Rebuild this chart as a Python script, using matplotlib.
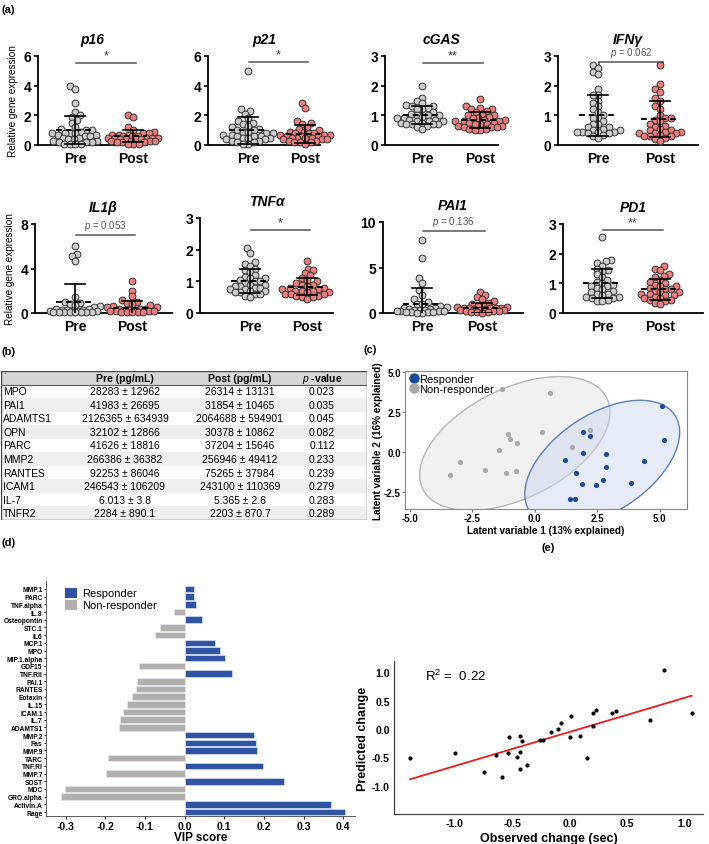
import numpy as np
import matplotlib
matplotlib.use("Agg")
import matplotlib.pyplot as plt
import matplotlib.transforms as transforms
from matplotlib.patches import Ellipse, Rectangle, Patch
from matplotlib.lines import Line2D

plt.rcParams['font.family'] = ['Liberation Sans', 'DejaVu Sans']
plt.rcParams['mathtext.fontset'] = 'custom'
plt.rcParams['mathtext.rm'] = 'Liberation Sans'
plt.rcParams['mathtext.it'] = 'Liberation Sans:italic'
plt.rcParams['mathtext.bf'] = 'Liberation Sans:bold'

# ---------------- data (a) : relative gene expression ----------------
genes = ['p16', 'p21', 'cGAS', 'IFNγ', 'IL1β', 'TNFα', 'PAI1', 'PD1']
pre_vals = [
    [4.0, 3.8, 2.8, 2.2, 2.0, 1.9, 1.7, 1.5, 1.2, 1.1, 1.0, 1.0, 0.9, 0.8, 0.8, 0.8, 0.8, 0.7, 0.7,
     0.6, 0.6, 0.5, 0.5, 0.4, 0.4, 0.3, 0.3, 0.2, 0.2, 0.2, 0.1, 0.1, 0.05, 0.05],
    [5.0, 2.4, 2.3, 2.1, 1.8, 1.6, 1.5, 1.4, 1.3, 1.2, 1.1, 1.0, 1.0, 0.9, 0.9, 0.8, 0.8, 0.7, 0.7,
     0.6, 0.6, 0.6, 0.5, 0.5, 0.5, 0.4, 0.4, 0.3, 0.3, 0.2, 0.2, 0.1, 0.1],
    [2.0, 1.6, 1.5, 1.4, 1.35, 1.3, 1.3, 1.25, 1.2, 1.2, 1.1, 1.05, 1.0, 1.0, 1.0, 0.95, 0.9, 0.9,
     0.85, 0.85, 0.8, 0.8, 0.8, 0.75, 0.75, 0.7, 0.7, 0.7, 0.7, 0.65, 0.6, 0.55],
    [2.7, 2.6, 2.45, 2.4, 1.9, 1.7, 1.7, 1.5, 1.4, 1.3, 1.2, 1.1, 1.0, 0.9, 0.9, 0.8, 0.7, 0.7, 0.6,
     0.6, 0.55, 0.5, 0.5, 0.45, 0.45, 0.45, 0.45, 0.4, 0.4, 0.35, 0.3, 0.25],
    [6.0, 5.3, 5.1, 4.7, 1.4, 1.0, 0.9, 0.8, 0.7, 0.6, 0.5, 0.4, 0.4, 0.3, 0.3, 0.3, 0.2, 0.2, 0.2,
     0.2, 0.1, 0.1, 0.1, 0.1, 0.1, 0.05, 0.05, 0.05],
    [2.05, 1.9, 1.6, 1.55, 1.5, 1.4, 1.35, 1.3, 1.2, 1.15, 1.1, 1.1, 1.05, 1.0, 1.0, 0.95, 0.9, 0.9,
     0.85, 0.85, 0.8, 0.8, 0.75, 0.75, 0.7, 0.7, 0.65, 0.65, 0.6, 0.6, 0.55, 0.5],
    [8.0, 6.0, 3.8, 3.3, 2.5, 2.0, 1.5, 1.2, 1.0, 1.0, 0.8, 0.7, 0.6, 0.5, 0.4, 0.4, 0.3, 0.3, 0.3,
     0.2, 0.2, 0.2, 0.2, 0.1, 0.1, 0.1, 0.1, 0.05, 0.05],
    [2.55, 1.8, 1.75, 1.7, 1.6, 1.5, 1.45, 1.4, 1.3, 1.2, 1.1, 1.05, 1.0, 0.95, 0.9, 0.9, 0.85, 0.8,
     0.75, 0.7, 0.65, 0.65, 0.6, 0.55, 0.55, 0.5, 0.5, 0.45, 0.4, 0.4],
]
post_vals = [
    [2.0, 1.9, 1.2, 1.0, 0.9, 0.8, 0.8, 0.7, 0.7, 0.7, 0.6, 0.6, 0.6, 0.5, 0.5, 0.5, 0.5, 0.5, 0.4,
     0.4, 0.4, 0.4, 0.3, 0.3, 0.3, 0.3, 0.2, 0.2, 0.2, 0.1, 0.1, 0.1],
    [2.8, 2.5, 1.6, 1.5, 1.4, 1.2, 1.1, 1.0, 0.9, 0.9, 0.8, 0.8, 0.8, 0.7, 0.7, 0.7, 0.6, 0.6, 0.6,
     0.5, 0.5, 0.5, 0.5, 0.4, 0.4, 0.4, 0.3, 0.3, 0.2, 0.2, 0.2, 0.1],
    [1.55, 1.3, 1.25, 1.2, 1.2, 1.15, 1.1, 1.05, 1.0, 1.0, 0.95, 0.9, 0.9, 0.85, 0.85, 0.8, 0.8, 0.8,
     0.75, 0.75, 0.7, 0.7, 0.7, 0.65, 0.65, 0.6, 0.6, 0.6, 0.55, 0.55, 0.5, 0.5],
    [2.7, 2.05, 1.9, 1.8, 1.6, 1.5, 1.3, 1.2, 1.0, 0.9, 0.9, 0.85, 0.8, 0.7, 0.65, 0.6, 0.55, 0.5,
     0.5, 0.45, 0.45, 0.4, 0.4, 0.4, 0.35, 0.3, 0.3, 0.3, 0.25, 0.2, 0.15],
    [2.9, 2.0, 1.5, 1.2, 1.0, 0.9, 0.8, 0.7, 0.6, 0.5, 0.5, 0.4, 0.4, 0.4, 0.3, 0.3, 0.3, 0.2, 0.2,
     0.2, 0.2, 0.1, 0.1, 0.1, 0.1, 0.05],
    [1.65, 1.4, 1.35, 1.25, 1.2, 1.1, 1.05, 1.0, 0.95, 0.9, 0.9, 0.85, 0.8, 0.8, 0.75, 0.75, 0.7, 0.7,
     0.7, 0.65, 0.65, 0.6, 0.6, 0.6, 0.55, 0.55, 0.5, 0.5, 0.45],
    [2.3, 2.0, 1.8, 1.5, 1.3, 1.1, 1.0, 0.9, 0.8, 0.7, 0.7, 0.6, 0.6, 0.5, 0.5, 0.5, 0.4, 0.4, 0.3,
     0.3, 0.3, 0.2, 0.2, 0.2, 0.1, 0.1, 0.1, 0.05],
    [1.6, 1.5, 1.45, 1.3, 1.25, 1.2, 1.1, 1.05, 1.0, 0.95, 0.9, 0.9, 0.85, 0.8, 0.8, 0.75, 0.7, 0.7,
     0.65, 0.65, 0.6, 0.6, 0.55, 0.5, 0.5, 0.45, 0.45, 0.4, 0.35, 0.3],
]
pre_mean = [1.0, 1.0, 1.0, 1.0, 1.0, 1.0, 1.0, 1.0]
pre_sd = [0.95, 0.9, 0.3, 0.68, 1.65, 0.38, 1.8, 0.48]
post_mean = [0.6, 0.75, 0.85, 0.88, 0.45, 0.83, 0.6, 0.8]
post_sd = [0.4, 0.63, 0.27, 0.6, 0.6, 0.27, 0.55, 0.35]
y_max = [6, 6, 3, 3, 8, 3, 10, 3]
y_ticks = [[0, 2, 4, 6], [0, 2, 4, 6], [0, 1, 2, 3], [0, 1, 2, 3],
           [0, 4, 8], [0, 1, 2, 3], [0, 5, 10], [0, 1, 2, 3]]
sig_text = ['*', '*', '**', '$\\it{p}$ = 0.062', '$\\it{p}$ = 0.053', '*', '$\\it{p}$ = 0.136', '**']
sig_y = [5.5, 5.6, 2.76, 2.8, 7.05, 2.62, 9.0, 2.8]

# ---------------- data (b) : table ----------------
tab_names = ['MPO', 'PAI1', 'ADAMTS1', 'OPN', 'PARC', 'MMP2', 'RANTES', 'ICAM1', 'IL-7', 'TNFR2']
tab_pre = ['28283 ± 12962', '41983 ± 26695', '2126365 ± 634939', '32102 ± 12866', '41626 ± 18816',
           '266386 ± 36382', '92253 ± 86046', '246543 ± 106209', '6.013 ± 3.8', '2284 ± 890.1']
tab_post = ['26314 ± 13131', '31854 ± 10465', '2064688 ± 594901', '30378 ± 10862', '37204 ± 15646',
            '256946 ± 49412', '75265 ± 37984', '243100 ± 110369', '5.365 ± 2.6', '2203 ± 870.7']
tab_p = ['0.023', '0.035', '0.045', '0.082', '0.112', '0.233', '0.239', '0.279', '0.283', '0.289']

# ---------------- data (c) : latent variables ----------------
resp_x = [5.09, 5.16, 1.93, 2.2, 1.93, 2.84, 1.23, 4.37, 2.87, 1.65, 1.89, 2.47, 2.73, 3.84, 1.41, 1.63]
resp_y = [2.88, 0.73, 1.23, 1.02, -0.06, -0.13, -0.48, -0.56, -0.94, -1.31, -1.98, -2.06, -1.77, -1.9,
          -2.9, -2.9]
non_x = [-1.3, 0.63, 0.29, -1.07, -0.99, -0.72, -1.44, -3.0, -3.4, -2.0, -1.15, -0.77, 1.51, 2.21]
non_y = [3.9, 3.7, 1.27, 1.12, 0.79, 0.56, 0.1, -0.65, -1.46, -1.13, -1.33, -1.17, 0.33, 1.39]

# ---------------- data (d) : VIP scores ----------------
vip_names = ['MMP.1', 'PARC', 'TNF.alpha', 'IL.8', 'Osteopontin', 'STC.1', 'IL6', 'MCP.1', 'MPO',
             'MIP.1.alpha', 'GDF15', 'TNF.RII', 'PAI.1', 'RANTES', 'Eotaxin', 'IL.15', 'ICAM.1',
             'IL.7', 'ADAMTS1', 'MMP.2', 'Fas', 'MMP.9', 'TARC', 'TNF.RI', 'MMP.7', 'SOST', 'MDC',
             'GRO.alpha', 'Activin.A', 'Rage']
vip_vals = [0.024, 0.024, 0.028, -0.028, 0.044, -0.063, -0.076, 0.077, 0.088, 0.102, -0.114, 0.119,
            -0.12, -0.124, -0.133, -0.146, -0.156, -0.162, -0.165, 0.174, 0.18, 0.183, -0.194, 0.199,
            -0.198, 0.251, -0.302, -0.311, 0.37, 0.405]

# ---------------- data (e) : observed vs predicted ----------------
obs_change = [-1.39, -1.0, -0.75, -0.64, -0.59, -0.54, -0.53, -0.46, -0.43, -0.43, -0.43, -0.42, -0.37,
              -0.26, -0.23, -0.16, -0.10, -0.08, 0.0, 0.01, 0.09, 0.15, 0.2, 0.2, 0.23, 0.37, 0.4,
              0.70, 0.82, 1.06]
pred_change = [-0.52, -0.42, -0.76, -0.45, -0.84, -0.42, -0.14, -0.5, -0.13, -0.41, -0.71, -0.21, -0.63,
               -0.2, -0.2, -0.05, 0.0, 0.11, -0.14, 0.23, -0.13, -0.52, 0.06, 0.28, 0.34, 0.28, 0.32,
               0.16, 1.04, 0.28]

W, H = 709, 845
fig = plt.figure(figsize=(W / 100, H / 100), dpi=100)


def rect(x0, y0, x1, y1):
    return [x0 / W, 1 - y1 / H, (x1 - x0) / W, (y1 - y0) / H]


def swarm_x(vals, ppx, ppy, diam, cap):
    # simple beeswarm in pixel space, limited to +-cap pixels
    vals = np.asarray(vals, float)
    order = np.argsort(vals)
    cands = sorted(np.arange(-cap, cap + 0.01, 0.5), key=lambda s: (abs(s), s))
    placed = []
    xs = np.zeros(len(vals))
    for i in order:
        yp = vals[i] * ppy
        best, bestd = 0.0, -1.0
        for s in cands:
            d = min([(s - px) ** 2 + (yp - py) ** 2 for px, py in placed], default=1e9)
            if d >= diam ** 2:
                best = s
                break
            if d > bestd:
                bestd, best = d, s
        placed.append((best, yp))
        xs[i] = best / ppx
    return xs


# ---------------- panel (a) ----------------
a_boxes = [(38, 57, 147, 146), (208, 57, 320, 146), (385, 57, 498, 146), (558, 57, 698, 146),
           (35, 225, 172, 314), (200, 219, 333, 314), (383, 223, 523, 314), (563, 225, 703, 314)]
pre_px = [75, 248, 422, 598, 75, 250, 422, 602]
post_px = [133, 305, 480, 660, 132, 307, 482, 660]

for g in range(8):
    x0, y0, x1, y1 = a_boxes[g]
    ax = fig.add_axes(rect(x0, y0, x1, y1))
    ppx = post_px[g] - pre_px[g]
    ppy = (y1 - y0) / y_max[g]
    ax.set_xlim((x0 - pre_px[g]) / ppx, (x1 - pre_px[g]) / ppx)
    ax.set_ylim(0, y_max[g])

    for xc, vals, fc in [(0, pre_vals[g], '#cdcdcd'), (1, post_vals[g], '#ef7d7d')]:
        xo = swarm_x(vals, ppx, ppy, 5.4, 25)
        ax.scatter(xc + xo, vals, s=24, facecolor=fc, edgecolor='#333333', linewidth=0.7,
                   zorder=3, clip_on=False)
    for xc, m, sd in [(0, pre_mean[g], pre_sd[g]), (1, post_mean[g], post_sd[g])]:
        hw = 19 / ppx
        cw = 10 / ppx
        ax.plot([xc - hw, xc + hw], [m, m], color='black', lw=1.4, ls=(0, (3, 2)), zorder=4)
        lo = max(m - sd, 0)
        ax.plot([xc, xc], [lo, m + sd], color='black', lw=1.2, zorder=4)
        ax.plot([xc - cw, xc + cw], [m + sd, m + sd], color='black', lw=1.2, zorder=4)
        if m - sd > 0:
            ax.plot([xc - cw, xc + cw], [m - sd, m - sd], color='black', lw=1.2, zorder=4)

    sy = sig_y[g]
    ax.plot([0.02, 1.05], [sy, sy], color='#555555', lw=1.1, clip_on=False)
    if g == 3:
        d = 0.03 * y_max[g]
        ax.plot([0.02, 0.02], [sy, sy - d], color='#555555', lw=1.1, clip_on=False)
        ax.plot([1.05, 1.05], [sy, sy - d], color='#555555', lw=1.1, clip_on=False)
    if sig_text[g].startswith('*'):
        ax.text(0.53, sy + 0.02 * y_max[g], sig_text[g], ha='center', va='bottom', fontsize=9,
                color='#333333')
    else:
        ax.text(0.53, sy + 0.03 * y_max[g], sig_text[g], ha='center', va='bottom', fontsize=7,
                color='#555555')

    ax.set_title(genes[g], fontsize=10, fontweight='bold', fontstyle='italic', pad=9)
    ax.set_yticks(y_ticks[g])
    ax.set_yticklabels([str(t) for t in y_ticks[g]], fontsize=10, fontweight='bold')
    ax.set_xticks([0, 1])
    ax.set_xticklabels(['Pre', 'Post'], fontsize=10, fontweight='bold')
    ax.tick_params(axis='x', length=0, pad=4)
    ax.tick_params(axis='y', length=3, width=1.2, pad=2)
    for s in ['top', 'right']:
        ax.spines[s].set_visible(False)
    for s in ['left', 'bottom']:
        ax.spines[s].set_linewidth(1.3)
    if g in (0, 4):
        ax.set_ylabel('Relative gene expression', fontsize=7.2, labelpad=4)

# ---------------- panel (b) ----------------
axb = fig.add_axes(rect(1, 372, 367, 521))
axb.set_xlim(0, 366)
axb.set_ylim(149, 0)
axb.axis('off')
row_h = 149 / 11
axb.add_patch(Rectangle((0, 0), 366, row_h, facecolor='#d6d6d6', edgecolor='none'))
for i in range(len(tab_names)):
    yt = (i + 1) * row_h
    fc = '#efefef' if i % 2 == 1 else 'white'
    axb.add_patch(Rectangle((0, yt), 366, row_h, facecolor=fc, edgecolor='none'))
    yc = yt + row_h / 2
    axb.text(2, yc, tab_names[i], ha='left', va='center', fontsize=7.5)
    axb.text(124, yc, tab_pre[i], ha='center', va='center', fontsize=7.5)
    axb.text(239, yc, tab_post[i], ha='center', va='center', fontsize=7.5)
    axb.text(321, yc, tab_p[i], ha='center', va='center', fontsize=7.5)
yc = row_h / 2
axb.text(3, yc - 2, '`', ha='left', va='center', fontsize=6)
axb.text(124, yc, 'Pre (pg/mL)', ha='center', va='center', fontsize=7.5, fontweight='bold')
axb.text(239, yc, 'Post (pg/mL)', ha='center', va='center', fontsize=7.5, fontweight='bold')
axb.text(321, yc, '$\\it{p}$ -value', ha='center', va='center', fontsize=7.5, fontweight='bold')
axb.plot([0, 366], [row_h, row_h], color='#555555', lw=0.8)
axb.add_patch(Rectangle((0, 0), 366, 149, facecolor='none', edgecolor='#444444', lw=1.0))


# ---------------- panel (c) ----------------
def conf_ellipse(ax, x, y, n_std, **kw):
    x = np.asarray(x)
    y = np.asarray(y)
    cov = np.cov(x, y)
    r = cov[0, 1] / np.sqrt(cov[0, 0] * cov[1, 1])
    ell = Ellipse((0, 0), width=2 * np.sqrt(1 + r), height=2 * np.sqrt(1 - r), **kw)
    t = (transforms.Affine2D().rotate_deg(45)
         .scale(np.sqrt(cov[0, 0]) * n_std, np.sqrt(cov[1, 1]) * n_std)
         .translate(x.mean(), y.mean()))
    ell.set_transform(t + ax.transData)
    ax.add_patch(ell)


axc = fig.add_axes(rect(405, 372, 687, 510))
axc.set_xlim(-5.2, 6.1)
axc.set_ylim(-3.55, 5.05)
conf_ellipse(axc, non_x, non_y, 2.4477, facecolor='#d8d8d8', alpha=0.35, edgecolor='none')
conf_ellipse(axc, non_x, non_y, 2.4477, facecolor='none', edgecolor='#b5b5b5', lw=1.0)
conf_ellipse(axc, resp_x, resp_y, 2.4477, facecolor='#c9d6ee', alpha=0.45, edgecolor='none')
conf_ellipse(axc, resp_x, resp_y, 2.4477, facecolor='none', edgecolor='#5b7fc0', lw=1.0)
axc.scatter(non_x, non_y, s=14, color='#a8a8a8', zorder=3, linewidth=0)
axc.scatter(resp_x, resp_y, s=14, color='#1f4a9c', zorder=3, linewidth=0)
axc.set_xticks([-5, -2.5, 0, 2.5, 5])
axc.set_xticklabels(['-5.0', '-2.5', '0.0', '2.5', '5.0'], fontsize=7, fontweight='bold')
axc.set_yticks([-2.5, 0, 2.5, 5])
axc.set_yticklabels(['-2.5', '0.0', '2.5', '5.0'], fontsize=7, fontweight='bold')
axc.tick_params(length=2, pad=1, color='#777777')
for s in axc.spines.values():
    s.set_color('#888888')
    s.set_linewidth(0.8)
axc.set_xlabel('Latent variable 1 (13% explained)', fontsize=7.2, fontweight='bold', labelpad=1)
axc.set_ylabel('Latent variable 2 (16% explained)', fontsize=7.2, fontweight='bold', labelpad=1)
hc = [Line2D([], [], marker='o', ls='none', color='#1f4a9c', markersize=6.5),
      Line2D([], [], marker='o', ls='none', color='#a8a8a8', markersize=6.5)]
axc.legend(hc, ['Responder', 'Non-responder'], loc='upper left', frameon=False, fontsize=8,
           handletextpad=0.0, borderpad=0.2, labelspacing=0.0, borderaxespad=0.1,
           handlelength=1.0)

# ---------------- panel (d) ----------------
axd = fig.add_axes(rect(46, 582, 355, 817))
n = len(vip_names)
ypos = np.arange(n)[::-1]
cols = ['#2e54a3' if v > 0 else '#b3afad' for v in vip_vals]
axd.barh(ypos, vip_vals, height=0.85, color=cols, edgecolor='#e8eef8', linewidth=0.4)
axd.set_ylim(-0.52, n + 0.04)
axd.set_xlim(-0.35, 0.43)
axd.set_yticks(ypos)
axd.set_yticklabels(vip_names, fontsize=4.8, fontweight='bold')
axd.set_xticks([-0.3, -0.2, -0.1, 0, 0.1, 0.2, 0.3, 0.4])
axd.set_xticklabels(['-0.3', '-0.2', '-0.1', '0.0', '0.1', '0.2', '0.3', '0.4'],
                    fontsize=7.5, fontweight='bold')
axd.tick_params(axis='y', length=1.5, pad=1, width=0.6)
axd.tick_params(axis='x', length=2, pad=1.5, width=0.6)
for s in ['top', 'right']:
    axd.spines[s].set_visible(False)
for s in ['left', 'bottom']:
    axd.spines[s].set_linewidth(0.6)
    axd.spines[s].set_color('#444444')
axd.set_xlabel('VIP score', fontsize=8.5, fontweight='bold', labelpad=0)
hd = [Patch(facecolor='#2e54a3'), Patch(facecolor='#b3afad')]
axd.legend(hd, ['Responder', 'Non-responder'], loc='upper left', bbox_to_anchor=(0.04, 1.0),
           frameon=False, fontsize=8, handlelength=1.1, handleheight=1.0, handletextpad=0.4,
           labelspacing=0.1, borderaxespad=0.2)

# ---------------- panel (e) ----------------
axe = fig.add_axes(rect(394, 662, 703, 815))
axe.set_xlim(-1.53, 1.16)
axe.set_ylim(-1.5, 1.2)
axe.scatter(obs_change, pred_change, s=9, color='black', zorder=3, linewidth=0)
k, b = np.polyfit(obs_change, pred_change, 1)
xl = np.array([min(obs_change), max(obs_change)])
axe.plot(xl, k * xl + b, color='#ee1c1c', lw=1.3)
axe.text(-1.26, 0.95, 'R$^2$ =  0.22', fontsize=9.5, va='center')
axe.set_xticks([-1.0, -0.5, 0, 0.5, 1.0])
axe.set_xticklabels(['-1.0', '-0.5', '0.0', '0.5', '1.0'], fontsize=7.5, fontweight='bold')
axe.set_yticks([-1.0, -0.5, 0, 0.5, 1.0])
axe.set_yticklabels(['-1.0', '-0.5', '0.0', '0.5', '1.0'], fontsize=7.5, fontweight='bold')
axe.tick_params(length=0, pad=3)
for s in ['top', 'right']:
    axe.spines[s].set_visible(False)
for s in ['left', 'bottom']:
    axe.spines[s].set_linewidth(0.9)
    axe.spines[s].set_color('#444444')
axe.set_xlabel('Observed change (sec)', fontsize=9, fontweight='bold', labelpad=3)
axe.set_ylabel('Predicted change', fontsize=9, fontweight='bold', labelpad=2)

# panel labels
for lab, x, y in [('(a)', 2, 10), ('(b)', 2, 352), ('(c)', 364, 350), ('(d)', 2, 543), ('(e)', 541, 548)]:
    fig.text(x / W, 1 - y / H, lab, fontsize=8, fontweight='bold', va='center', ha='left')

fig.savefig('out.png', dpi=100)
